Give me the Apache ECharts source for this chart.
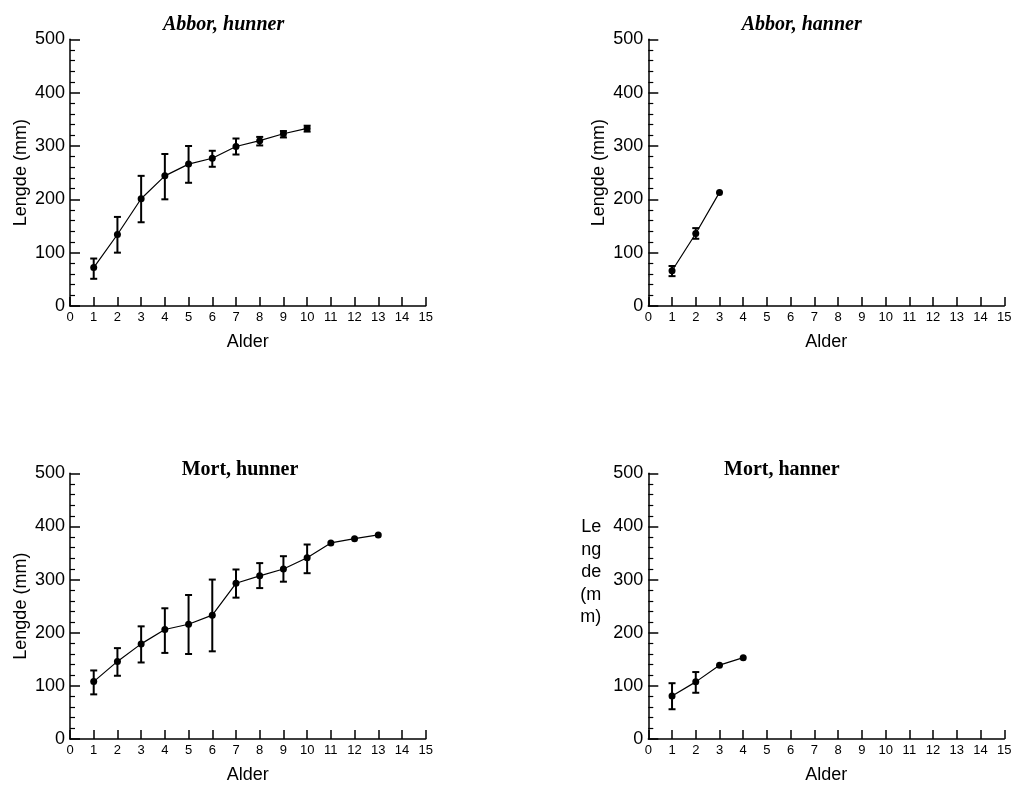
<!DOCTYPE html>
<html><head><meta charset="utf-8">
<script src="https://cdn.jsdelivr.net/npm/echarts@6/dist/echarts.min.js"></script>
<style>html,body{margin:0;padding:0;background:#fff}#c{width:1015px;height:785px}</style>
</head><body><div id="c"></div>
<script>
// Panel 1: Abbor, hunner
const ages1 = [1,2,3,4,5,6,7,8,9,10];
const mean1 = [72,134,201,244,266,277,299,310,323,333];
const low1  = [51,100,157,200,231,261,284,301,316,327];
const high1 = [89,167,244,285,300,291,314,317,328,338];
// Panel 2: Abbor, hanner
const ages2 = [1,2,3];
const mean2 = [66,136,213];
const low2  = [56,126,null];
const high2 = [75,146,null];
// Panel 3: Mort, hunner
const ages3 = [1,2,3,4,5,6,7,8,9,10,11,12,13];
const mean3 = [108,146,179,206,216,233,293,307,320,341,369,377,384];
const low3  = [84,119,144,162,160,165,266,284,296,312,null,null,null];
const high3 = [129,171,212,246,271,300,319,331,344,366,null,null,null];
// Panel 4: Mort, hanner
const ages4 = [1,2,3,4];
const mean4 = [81,107.5,139,153];
const low4  = [56,87,null,null];
const high4 = [105,126,null,null];

const titles = ['Abbor, hunner','Abbor, hanner','Mort, hunner','Mort, hanner'];
const xName = 'Alder';
const yNames = ['Lengde (mm)','Lengde (mm)','Lengde (mm)','Le\nng\nde\n(m\nm)\n\n\n'];

const panels = [
  {ages: ages1, mean: mean1, low: low1, high: high1},
  {ages: ages2, mean: mean2, low: low2, high: high2},
  {ages: ages3, mean: mean3, low: low3, high: high3},
  {ages: ages4, mean: mean4, low: low4, high: high4}
];

const FONT = 'Liberation Sans, Arial, sans-serif';
const grids = [
  {left: 70, top: 39.3, width: 355.7, height: 266.7},
  {left: 648.3, top: 39.3, width: 356, height: 266.7},
  {left: 70, top: 473.3, width: 355.7, height: 266.7},
  {left: 648.3, top: 473.3, width: 356, height: 266.7}
];
const titlePos = [
  {left: 163, top: 15, italic: true},
  {left: 741.7, top: 15, italic: true},
  {left: 181.7, top: 460, italic: false},
  {left: 724, top: 460, italic: false}
];

function renderErr(params, api) {
  const x = api.value(0), lo = api.value(1), hi = api.value(2);
  const p1 = api.coord([x, hi]);
  const p2 = api.coord([x, lo]);
  const w = 3.5;
  const st = {stroke: '#000', lineWidth: 2};
  return {type: 'group', children: [
    {type: 'line', shape: {x1: p1[0], y1: p1[1], x2: p2[0], y2: p2[1]}, style: st},
    {type: 'line', shape: {x1: p1[0]-w, y1: p1[1], x2: p1[0]+w, y2: p1[1]}, style: st},
    {type: 'line', shape: {x1: p2[0]-w, y1: p2[1], x2: p2[0]+w, y2: p2[1]}, style: st}
  ]};
}

const option = {
  animation: false,
  backgroundColor: '#fff',
  title: titles.map((t, i) => ({
    text: t, left: titlePos[i].left, top: titlePos[i].top, padding: 0,
    textStyle: {fontFamily: 'Liberation Serif, Times New Roman, serif', fontWeight: 'bold',
      fontStyle: titlePos[i].italic ? 'italic' : 'normal', fontSize: 20, color: '#000'}
  })),
  grid: grids.map(g => Object.assign({containLabel: false}, g)),
  xAxis: grids.map((g, i) => ({
    type: 'value', gridIndex: i, min: 0, max: 15, interval: 1,
    name: xName, nameLocation: 'middle', nameGap: 27,
    nameTextStyle: {fontFamily: FONT, fontSize: 18, color: '#000'},
    axisLine: {show: true, onZero: false, lineStyle: {color: '#000', width: 1.5}},
    axisTick: {show: true, inside: true, length: 9, lineStyle: {color: '#000', width: 1.5}},
    axisLabel: {fontFamily: FONT, fontSize: 13, color: '#000', margin: 5},
    splitLine: {show: false}
  })),
  yAxis: grids.map((g, i) => ({
    type: 'value', gridIndex: i, min: 0, max: 500, interval: 100,
    name: yNames[i], nameLocation: 'middle',
    nameRotate: i === 3 ? 0 : 90,
    nameGap: i === 3 ? 47 : 40,
    nameTextStyle: i === 3
      ? {fontFamily: FONT, fontSize: 18, color: '#000', lineHeight: 22.5}
      : {fontFamily: FONT, fontSize: 18, color: '#000'},
    axisLine: {show: true, onZero: false, lineStyle: {color: '#000', width: 1.5}},
    axisTick: {show: true, inside: true, length: 10, lineStyle: {color: '#000', width: 1.5}},
    minorTick: {show: true, splitNumber: 5, length: 5, lineStyle: {color: '#000', width: 1.2}},
    axisLabel: {fontFamily: FONT, fontSize: 18, color: '#000', margin: 5},
    splitLine: {show: false}
  })),
  series: []
};

panels.forEach((p, i) => {
  const errData = [];
  p.ages.forEach((a, k) => {
    if (p.low[k] != null && p.high[k] != null) errData.push([a, p.low[k], p.high[k]]);
  });
  option.series.push({
    type: 'custom', xAxisIndex: i, yAxisIndex: i, renderItem: renderErr,
    data: errData, encode: {x: 0, y: [1, 2]}, z: 2, silent: true
  });
  option.series.push({
    type: 'line', xAxisIndex: i, yAxisIndex: i,
    data: p.ages.map((a, k) => [a, p.mean[k]]),
    symbol: 'circle', symbolSize: 7, showSymbol: true,
    itemStyle: {color: '#000'}, lineStyle: {color: '#000', width: 1.2}, z: 3, silent: true
  });
});

const chart = echarts.init(document.getElementById('c'), null, {renderer: 'canvas'});
chart.setOption(option);
</script>
</body></html>
